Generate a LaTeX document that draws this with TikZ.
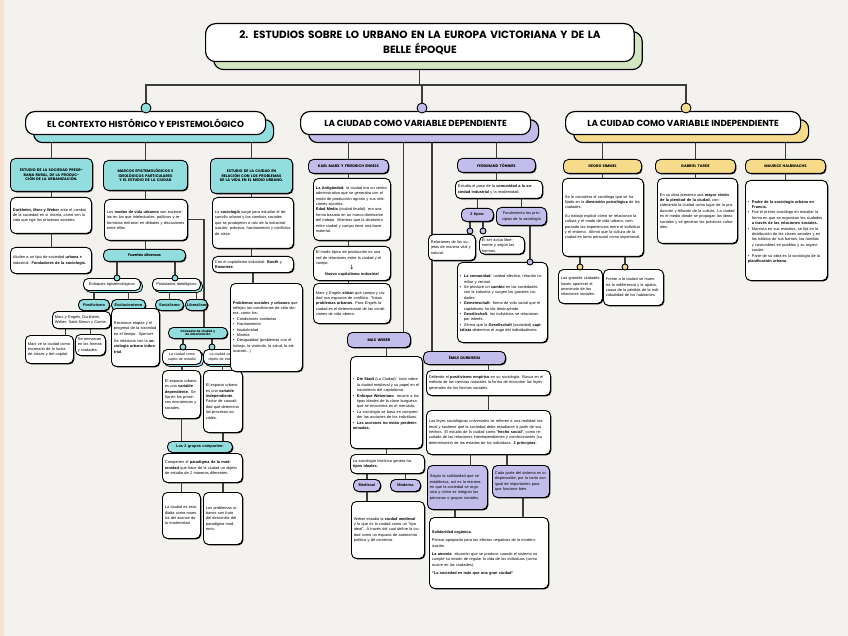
\documentclass[tikz,border=0pt]{standalone}
\usepackage{fontspec}
\setmainfont{Liberation Sans}
\newfontfamily\headfont{Poppins}
\newfontfamily\symfont{DejaVu Sans}
\usepackage{xcolor}
\definecolor{vizPaper}{HTML}{F3F2EE}
\definecolor{vizEdge}{HTML}{F7E1D0}
\definecolor{vizTeal}{HTML}{92DEDF}
\definecolor{vizLilac}{HTML}{C3BDEB}
\definecolor{vizSand}{HTML}{F6DB8B}
\definecolor{vizSage}{HTML}{D3E6C2}
\definecolor{vizLine}{HTML}{3C3C3C}
\usetikzlibrary{shadows}
\pgfdeclarelayer{paper}
\pgfdeclarelayer{links}
\pgfsetlayers{paper,links,main}
\newcommand{\bodytxt}{\fontsize{3.9}{5.4}\selectfont}
\newcommand{\tagtxt}{\headfont\bfseries\fontsize{3.7}{4.7}\selectfont}
\newcommand{\itm}{\par\noindent\hangindent=4pt\hangafter=1\makebox[4pt][l]{\textbullet}}
\tikzset{
  boxbase/.style={draw, line width=0.9pt, fill=white, rounded corners=5pt, align=left,
    font=\bodytxt, inner xsep=2.5pt, inner ysep=2pt, anchor=north west},
  wbox/.style={boxbase, general shadow={shadow xshift=0.9pt, shadow yshift=-0.9pt, fill=black}},
  sbox/.style={boxbase, align=center, general shadow={shadow xshift=2pt, shadow yshift=-2pt, fill=#1, draw=black, line width=0.7pt}},
  tag/.style={wbox, align=center, font=\tagtxt, inner ysep=1pt, fill=#1},
  hbox/.style={draw, line width=1.2pt, fill=white, rounded corners=9pt, anchor=north west,
    font=\headfont\bfseries\fontsize{8.8}{10}\selectfont, minimum height=23pt,
    general shadow={shadow xshift=8pt, shadow yshift=-8pt, fill=#1, draw=black, line width=1.2pt}},
  dot/.style={circle, draw, line width=0.9pt, inner sep=0pt, minimum size=6pt, fill=#1},
  bigdot/.style={dot=#1, minimum size=10pt},
  link/.style={draw=vizLine, line width=1.1pt}
}

\begin{document}
\begin{tikzpicture}[x=1pt, y=-1pt]
  \useasboundingbox (0,0) rectangle (848,636);
  \begin{pgfonlayer}{paper}
    \fill[vizPaper] (0,0) rectangle (848,636);
    \fill[vizEdge] (0,0) rectangle (4,636);
  \end{pgfonlayer}

  % title and the three branches
  \node[hbox=vizSage, rounded corners=10pt, text width=422pt, minimum height=38pt, align=center,
    font=\headfont\bfseries\fontsize{10.5}{15}\selectfont] (title) at (205,23)
    {2. ESTUDIOS SOBRE LO URBANO EN LA EUROPA VICTORIANA Y DE LA\\ BELLE ÉPOQUE};
  \node[hbox=vizTeal, minimum width=240pt] (h1) at (25,111) {EL CONTEXTO HISTÓRICO Y EPISTEMOLÓGICO};
  \node[hbox=vizLilac, minimum width=230pt] (h2) at (300,111) {LA CIUDAD COMO VARIABLE DEPENDIENTE};
  \node[hbox=vizSand, minimum width=235pt] (h3) at (565,111) {LA CUIDAD COMO VARIABLE INDEPENDIENTE};
  \node[bigdot=vizTeal] (c1) at (146,108) {};
  \node[bigdot=vizLilac] (c2) at (422,108) {};
  \node[bigdot=vizSand] (c3) at (686,108) {};
  \coordinate (hub) at (422,85);

  % contexto historico
  \node[tag=vizTeal, text width=77pt, minimum height=33pt] (s1) at (10,158)
    {ESTUDIO DE LA SOCIEDAD PREURBANA RURAL, DE LA PRODUCCIÓN DE LA URBANIZACIÓN.};
  \node[tag=vizTeal, text width=79pt, minimum height=30pt] (s2) at (103,160)
    {MARCOS EPISTEMOLÓGICOS E IDEOLÓGICOS PARTICULARES Y EL ESTUDIO DE LA CIUDAD};
  \node[tag=vizTeal, text width=77pt, minimum height=35pt] (s3) at (210,158)
    {ESTUDIO DE LA CIUDAD EN RELACIÓN CON LOS PROBLEMAS DE LA VIDA EN EL MEDIO URBANO.};
  \node[wbox, text width=76pt, minimum height=36pt] (b1) at (10,197)
    {\textbf{Durkheim, Marx y Weber} ante el cambio de la sociedad en sí misma, cómo ven la vida que rige los procesos sociales.};
  \node[wbox, text width=76pt, minimum height=26pt] (b2) at (10,247)
    {Aluden a un tipo de sociedad \textbf{urbana} e industrial. \textbf{Fundadores de la sociología.}};
  \node[wbox, text width=78pt, minimum height=41pt] (b3) at (104,199)
    {Los \textbf{modos de vida urbanos} son escenarios en los que intelectuales, políticos y reformistas entraron en debates y discusiones entre ellos.};
  \node[tag=vizTeal, text width=77pt, minimum height=12pt] (fu) at (103,249) {Fuentes diversas};
  \node[sbox=vizTeal, text width=52pt, minimum height=12pt] (enl) at (83,278) {Enfoques epistemológicos};
  \node[sbox=vizTeal, text width=43pt, minimum height=12pt] (post) at (152,278) {Postulados ideológicos};
  \node[dot=vizTeal] (d1) at (117,278) {};
  \node[dot=vizTeal] (d2) at (175,278) {};
  \node[tag=vizTeal, text width=26pt, minimum height=11pt, font=\bodytxt\bfseries] (pos) at (78,299) {Positivismo};
  \node[tag=vizTeal, text width=29pt, minimum height=11pt, font=\bodytxt\bfseries] (evo) at (111,299) {Evolucionismo};
  \node[tag=vizTeal, text width=23pt, minimum height=11pt, font=\bodytxt\bfseries] (soc) at (155,299) {Socialismo};
  \node[tag=vizTeal, text width=19pt, minimum height=11pt, inner xsep=1.5pt, font=\bodytxt\bfseries] (lib) at (185,299) {Liberalismo};
  \node[wbox, text width=53pt, minimum height=17pt] (posbox) at (52,311)
    {Marx y Engels, Durkheim, Weber, Saint-Simon y Comte.};
  \node[wbox, text width=43pt, minimum height=58pt] (evobox) at (111,308)
    {Reconoce etapas y el progreso de la sociedad en el tiempo. Spencer.\par\vspace{2pt}Se relaciona con la \textbf{sociología urbana industrial}.};
  \node[wbox, text width=43pt, minimum height=28pt] (posA) at (25,335)
    {Marx ve la ciudad como escenario de la lucha de clases y del capital.};
  \node[wbox, text width=25pt, minimum height=21pt] (posB) at (75,334)
    {Se enmarcan en las formas y ciudades.};
  \node[tag=vizTeal, text width=54pt, minimum height=11pt, font=\headfont\bfseries\fontsize{3}{3.6}\selectfont] (conc) at (168,327)
    {Concepto de ciudad y\\ de urbanización};
  \node[sbox=vizTeal, text width=34pt, minimum height=15pt, font=\fontsize{3.6}{4.6}\selectfont] (n1) at (162,349)
    {La ciudad como sujeto de estudio};
  \node[sbox=vizTeal, text width=33pt, minimum height=15pt, font=\fontsize{3.6}{4.6}\selectfont] (n2) at (203,349)
    {La ciudad como objeto de estudio};
  \node[dot=vizTeal] (dn1) at (183,347) {};
  \node[dot=vizTeal] (dn2) at (212,347) {};
  \node[wbox, text width=33pt, minimum height=48pt] (c1b) at (162,370)
    {El espacio urbano es una \textbf{variable dependiente}. Se fija en los procesos económicos y sociales.};
  \node[wbox, text width=34pt, minimum height=62pt] (c2b) at (203,370)
    {El espacio urbano es una \textbf{variable independiente}. Factor de causalidad que determina los procesos sociales.};
  \node[tag=vizTeal, text width=60pt, minimum height=11pt, font=\bodytxt\bfseries] (los2) at (167,441) {Los 2 grupos comparten:};
  \node[wbox, text width=75pt, minimum height=29pt] (comp) at (162,453)
    {Comparten el \textbf{paradigma de la modernidad} que hace de la ciudad un objeto de estudio de 2 maneras diferentes:};
  \node[wbox, text width=33pt, minimum height=46pt] (ca) at (162,492)
    {La ciudad es estudiada como muestra del avance de la modernidad.};
  \node[wbox, text width=34pt, minimum height=52pt] (cb) at (203,492)
    {Los problemas urbanos son fruto del desarrollo del paradigma moderno.};
  \node[wbox, text width=76pt, minimum height=51pt] (b4) at (212,197)
    {La \textbf{sociología} surge para estudiar el desarrollo urbano y los cambios sociales que se produjeron a raíz de la industrialización: pobreza, hacinamiento y conflictos de clase.};
  \node[wbox, text width=76pt, minimum height=16pt] (conel) at (212,256)
    {Con el capitalismo industrial: \textbf{Booth} y \textbf{Rowntree}.};
  \node[wbox, text width=67pt, minimum height=88pt] (prob) at (230,283)
    {\textbf{Problemas sociales y urbanos} que reflejan las condiciones de vida obrera, como los:
     \itm Condiciones sanitarias
     \itm Hacinamiento
     \itm Insalubridad
     \itm Miseria
     \itm Desigualdad (problemas con el trabajo, la vivienda, la salud, la educación...)};

  % ciudad como variable dependiente
  \node[tag=vizLilac, text width=75pt, minimum height=14pt] (km) at (308,159) {KARL MARX Y FRIEDRICH ENGELS};
  \node[wbox, text width=72pt, minimum height=62pt] (km1) at (313,178)
    {\textbf{La Antigüedad}: la ciudad era un centro administrativo que se generaba con el modo de producción agrario y sus relaciones sociales.\par\textbf{Edad Media} (ciudad feudal): era una forma basada en un marco dominante del trabajo. Mientras que la dicotomía entre ciudad y campo tiene una base material.};
  \node[wbox, text width=72pt, minimum height=34pt] (km2) at (313,246)
    {El modo típico de producción es una red de relaciones entre la ciudad y el campo.\par
     {\centering{\symfont\fontsize{6}{6}\selectfont ↓}\par\textbf{Nuevo capitalismo industrial}\par}};
  \node[wbox, text width=72pt, minimum height=40pt] (km3) at (313,283)
    {Marx y Engels \textbf{sitúan} que campo y ciudad son espacios de conflicto. Tratan \textbf{problemas urbanos}. Para Engels la ciudad es el determinante de las condiciones de vida obrera.};
  \node[tag=vizLilac, text width=58pt, minimum height=15pt] (mw) at (347,332) {MAX WEBER};
  \node[wbox, text width=67pt, minimum height=92pt] (mw1) at (350,356)
    {\itm \textbf{Die Stadt} (La Ciudad): trata sobre la ciudad medieval y su papel en el nacimiento del capitalismo.
     \itm \textbf{Enfoque Weberiano}: recurre a los tipos ideales de la clase burguesa que se encuentra en el mercado.
     \itm La sociología se basa en comprender las acciones de los individuos.
     \itm \textbf{Las acciones no están predeterminadas.}};
  \node[wbox, text width=69pt, minimum height=19pt] (mw2) at (350,454)
    {La sociología histórica genera los \textbf{tipos ideales}:};
  \node[tag=vizLilac, text width=22pt, minimum height=12pt, font=\bodytxt\bfseries] (med) at (353,479) {Medieval};
  \node[tag=vizLilac, text width=25pt, minimum height=12pt, font=\bodytxt\bfseries] (mod) at (390,479) {Moderna};
  \node[wbox, text width=68pt, minimum height=57pt] (mw3) at (351,501)
    {Weber estudia la \textbf{ciudad medieval} y lo que es la ciudad como un “tipo ideal”. A través del cual define la ciudad como un espacio de autonomía política y de comercio.};
  \node[tag=vizLilac, text width=73pt, minimum height=14pt] (ft) at (457,158) {FERDINAND TÖNNIES};
  \node[wbox, text width=82pt, minimum height=18pt] (ft1) at (455,180)
    {Estudia el paso de la \textbf{comunidad a la sociedad industrial} y la modernidad.};
  \node[tag=vizLilac, text width=27pt, minimum height=13pt, font=\bodytxt\bfseries] (tip) at (461,208) {2 tipos:};
  \node[tag=vizLilac, text width=45pt, minimum height=18pt, font=\bodytxt] (fund) at (496,207)
    {Fundamenta los principios de la sociología};
  \node[wbox, text width=42pt, minimum height=26pt] (rel) at (428,234)
    {Relaciones de los sujetos de manera vital y natural.};
  \node[wbox, text width=40pt, minimum height=16pt] (ser) at (479,236)
    {El ser actúa libremente y según las normas.};
  \node[wbox, text width=85pt, minimum height=80pt] (ftb) at (457,262)
    {\itm \textbf{La comunidad}: unidad afectiva, relación familiar y vecinal.
     \itm Se produce un \textbf{cambio} en las sociedades con la industria y surgen las grandes ciudades.
     \itm \textbf{Gemeinschaft}: forma de vida social que el capitalismo ha ido destruyendo.
     \itm \textbf{Gesellschaft}: los individuos se relacionan por interés.
     \itm Afirma que la \textbf{Gesellschaft} (sociedad) \textbf{capitalista} determina el auge del individualismo.};
  \node[dot=vizLilac] (d3) at (470,231) {};
  \node[dot=vizLilac] (d4) at (483,231) {};
  \node[dot=vizLilac] (d5) at (530,262) {};
  \node[tag=vizLilac, text width=77pt, minimum height=13pt] (ed) at (423,351) {ÉMILE DURKHEIM};
  \node[wbox, text width=119pt, minimum height=25pt] (ed1) at (426,370)
    {Defiende el \textbf{positivismo empírico} en su sociología. Busca en el método de las ciencias naturales la forma de encontrar las leyes generales de los hechos sociales.};
  \node[wbox, text width=119pt, minimum height=44pt] (ed2) at (426,410)
    {Las leyes sociológicas universales se refieren a una realidad material y sostiene que la sociedad debe estudiarse a partir de sus hechos. El estudio de la ciudad como “\textbf{hecho social}”, como resultado de las relaciones interdependientes y condicionantes (su determinante) de los estados de los individuos. \textbf{2 principios}:};
  \node[wbox, fill=vizLilac, text width=55pt, minimum height=44pt] (eda) at (427,465)
    {Según la solidaridad que se establezca, así es la manera en que la sociedad se organiza y cómo se integran las personas o grupos sociales.};
  \node[wbox, fill=vizLilac, text width=52pt, minimum height=32pt] (edb) at (492,465)
    {Cada parte del sistema es indispensable, por lo tanto son igual de importantes para que funcione bien.};
  \node[wbox, text width=114pt, minimum height=71pt] (ed3) at (429,517)
    {\textbf{Solidaridad orgánica.}\par\vspace{3pt}
     Pensar apropiado para los efectos negativos de la modernización.\par\vspace{3pt}
     \textbf{La anomia}: situación que se produce cuando el sistema no cumple su misión de regular la vida de los individuos (como ocurre en las ciudades).\par\vspace{3pt}
     \textbf{“La sociedad es más que una gran ciudad”}};
  \coordinate (mwtop) at ([xshift=-7pt]mw.north east);
  \coordinate (edtop) at ([xshift=9pt]ed.north west);

  % ciudad como variable independiente
  \node[tag=vizSand, text width=73pt, minimum height=14pt] (gs) at (563,159) {GEORG SIMMEL};
  \node[tag=vizSand, text width=75pt, minimum height=14pt] (gt) at (655,159) {GABRIEL TARDE};
  \node[tag=vizSand, text width=75pt, minimum height=14pt] (mh) at (745,159) {MAURICE HALBWACHS};
  \node[wbox, text width=76pt, minimum height=78pt] (gsb) at (562,178)
    {Se le considera el sociólogo que se ha fijado en la \textbf{dimensión psicológica} de las ciudades.\par\vspace{3pt}
     Su trabajo explicó cómo se relacionan la cultura y el modo de vida urbano, comparando las experiencias entre el individuo y el entorno. Afirmó que la cultura de la ciudad es tanto personal como impersonal.};
  \node[wbox, text width=75pt, minimum height=65pt] (gtb) at (657,178)
    {En su obra presenta una \textbf{mayor visión de la plenitud de la ciudad}, considerando la ciudad como lugar de la producción y difusión de la cultura. La ciudad es el medio donde se propagan las ideas sociales y se generan las prácticas culturales.};
  \node[wbox, text width=77pt, minimum height=100pt] (mhb) at (745,180)
    {\itm \textbf{Padre de la sociología urbana en Francia.}
     \itm Fue el primer sociólogo en estudiar la forma en que se organizan las ciudades \textbf{a través de las relaciones sociales.}
     \itm Marxista en sus estudios, se fijó en la distribución de las clases sociales y en los hábitos de sus barrios, las familias y costumbres en pueblos y su organización.
     \itm Parte de su obra es la sociología de la \textbf{planificación urbana}.};
  \node[wbox, text width=39pt, minimum height=34pt] (gs1) at (558,269)
    {Las grandes ciudades hacen aparecer el anonimato de las relaciones sociales.};
  \node[wbox, text width=55pt, minimum height=36pt] (gs2) at (603,269)
    {Frente a la ciudad se muestra la indiferencia y la apatía, causa de la pérdida de la individualidad de los habitantes.};
  \node[dot=vizSand] (d6) at (580,267) {};
  \node[dot=vizSand] (d7) at (625,267) {};

  % connectors
  \begin{pgfonlayer}{links}
    \draw[link] (title.south) -- (title.south |- hub);
    \draw[link] (c1.north) |- (hub) -| (c3.north);
    \draw[link] (hub) -- (c2.north);
    \draw[link] (s1.north) -- (s1.north |- h1.south);
    \draw[link] (s2.north) -- (s2.north |- h1.south);
    \draw[link] (s3.north) -- (s3.north |- h1.south);
    \draw[link] (km.north) -- (km.north |- h2.south);
    \draw[link] (mwtop) -- (mwtop |- h2.south);
    \draw[link] (edtop) -- (edtop |- h2.south);
    \draw[link] (ft.north) -- (ft.north |- h2.south);
    \draw[link] (gs.north) -- (gs.north |- h3.south);
    \draw[link] (gt.north) -- (gt.north |- h3.south);
    \draw[link] (mh.north) -- (mh.north |- h3.south);
    \draw[link] (s1.south) -- (s1.south |- b2.north);
    \draw[link] (s2.south) -- (s2.south |- fu.north);
    \draw[link] (b3.east) -| ([xshift=6pt]conc.north);
    \draw[link] (fu.south -| d1) -- (d1);
    \draw[link] (fu.south -| d2) -- (d2);
    \draw[link] (pos.north) -- (pos.north |- enl.south);
    \draw[link] (evo.north) -- (evo.north |- enl.south);
    \draw[link] (soc.north) -- (soc.north |- post.south);
    \draw[link] (lib.north) -- (lib.north |- post.south);
    \draw[link] ([xshift=-8pt]posA.north east) -- ([xshift=-8pt]posA.north east |- posbox.south);
    \draw[link] (posB.north) -- (posB.north |- posbox.south);
    \draw[link] (conc.south -| dn1) -- (dn1);
    \draw[link] (conc.south -| dn2) -- (dn2);
    \draw[link] (n1.south) -- (n1.south |- c1b.north);
    \draw[link] (n2.south) -- (n2.south |- c2b.north);
    \draw[link] (c1b.south) -- (c1b.south |- los2.north);
    \draw[link] (c2b.south) -- (c2b.south |- los2.north);
    \draw[link] (ca.north) -- (ca.north |- comp.south);
    \draw[link] (cb.north) -- (cb.north |- comp.south);
    \draw[link] (s3.south) -- (s3.south |- conel.north);
    \draw[link] (conel.south) -- (conel.south |- prob.north);
    \draw[link] (km.south) -- (km.south |- km3.north);
    \draw[link] (mw1.north) -- (mw1.north |- mw.south);
    \draw[link] (mw1.south) -- (mw1.south |- mw2.north);
    \draw[link] (med.north) -- (med.north |- mw2.south);
    \draw[link] (mod.north) -- (mod.north |- mw2.south);
    \draw[link] (med.south) -- (med.south |- mw3.north);
    \draw[link] (ft.south) -- (ft.south |- ft1.north);
    \draw[link] (tip.north) -- (tip.north |- ft1.south);
    \draw[link] (fund.north) -- (fund.north |- ft1.south);
    \draw[link] (tip.south -| d3) -- (d3);
    \draw[link] (tip.south -| d4) -- (d4);
    \draw[link] (fund.south -| d5) -- (d5);
    \draw[link] (ed1.north) -- (ed1.north |- ed.south);
    \draw[link] (ed1.south) -- (ed1.south |- ed2.north);
    \draw[link] ([xshift=-17pt]eda.north east) -- ([xshift=-17pt]eda.north east |- ed2.south);
    \draw[link] ([xshift=15pt]edb.north west) -- ([xshift=15pt]edb.north west |- ed2.south);
    \draw[link] ([xshift=28pt]eda.south west) -- ([xshift=28pt]eda.south west |- ed3.north);
    \draw[link] ([xshift=31pt]edb.south west) -- ([xshift=31pt]edb.south west |- ed3.north);
    \draw[link] (gs.south) -- (gs.south |- gsb.north);
    \draw[link] (gt.south) -- (gt.south |- gtb.north);
    \draw[link] (mh.south) -- (mh.south |- mhb.north);
    \draw[link] (gsb.south -| d6) -- (d6);
    \draw[link] (gsb.south -| d7) -- (d7);
  \end{pgfonlayer}
\end{tikzpicture}
\end{document}
